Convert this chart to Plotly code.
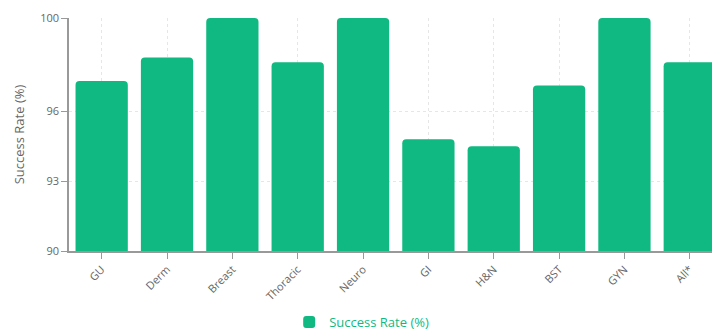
import plotly.graph_objects as go

categories = ["GU", "Derm", "Breast", "Thoracic", "Neuro", "GI", "H&N", "BST", "GYN", "All*"]
success_rate = [97.3, 98.3, 100, 98.1, 100, 94.8, 94.5, 97.1, 100, 98.1]
y_ticks = [90, 93, 96, 100]

GREEN = "#10b981"
AXIS = "#999999"
TEXT = "#666666"
GRID = "#e6e6e6"

fig = go.Figure()
fig.add_trace(go.Bar(
    x=categories, y=success_rate, name="Success Rate (%)",
    marker=dict(color=GREEN, cornerradius=4, line=dict(width=0)),
    showlegend=True,
))

fig.update_layout(
    width=712, height=332,
    margin=dict(l=69, r=0, t=18, b=81),
    paper_bgcolor="white", plot_bgcolor="white",
    font=dict(family="Open Sans, Noto Sans, sans-serif", size=11, color=TEXT),
    bargap=0.2,
    showlegend=True,
    legend=dict(
        orientation="h", xref="container", yref="container",
        x=0.508, xanchor="center", y=0.03, yanchor="middle",
        font=dict(size=13, color=GREEN),
        itemsizing="constant",
    ),
)

fig.update_xaxes(
    type="category", range=[-0.5, 9.34],
    showline=True, linecolor=AXIS, linewidth=1.5,
    ticks="outside", ticklen=6, tickcolor=AXIS,
    tickangle=-45, tickfont=dict(size=11, color=TEXT),
    showgrid=True, gridcolor=GRID, griddash="3px,3px", gridwidth=1,
)
fig.update_yaxes(
    range=[90, 100], tickvals=y_ticks, ticktext=[str(v) for v in y_ticks],
    showline=True, linecolor=AXIS, linewidth=1.5,
    ticks="outside", ticklen=6, tickcolor=AXIS,
    tickfont=dict(size=11, color=TEXT),
    showgrid=True, gridcolor=GRID, griddash="3px,3px", gridwidth=1,
    zeroline=False,
    title=dict(text="Success Rate (%)", font=dict(size=13, color=TEXT), standoff=13),
)

fig.write_html(
    "out.html",
    config={"displayModeBar": False},
    post_script="document.body.style.margin='0';document.documentElement.style.overflow='hidden';",
)
